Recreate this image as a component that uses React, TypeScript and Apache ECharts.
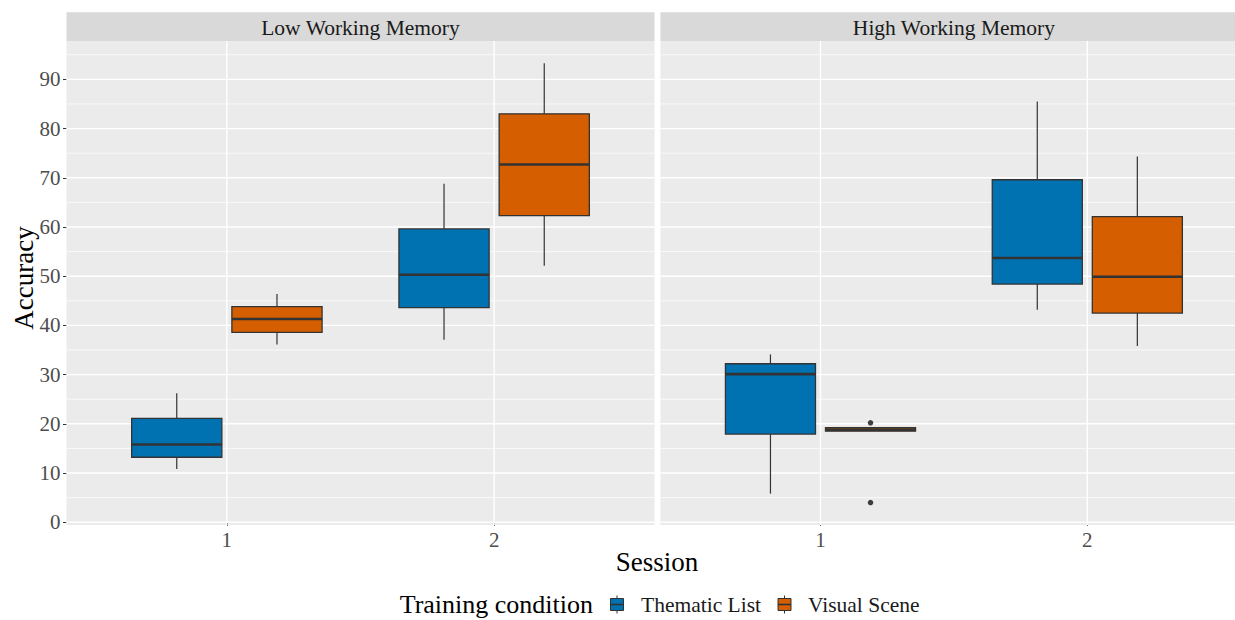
import React, { useEffect, useRef } from "react";
import * as echarts from "echarts";

// ---------- data ----------
const panels = ["Low Working Memory", "High Working Memory"];
const sessions = ["1", "2"];
const conditions = ["Thematic List", "Visual Scene"];
const colors = ["#0072B2", "#D55E00"];
const yTicks = [0, 10, 20, 30, 40, 50, 60, 70, 80, 90];
const yMinor = [5, 15, 25, 35, 45, 55, 65, 75, 85, 95];

// per session: [lower whisker, Q1, median, Q3, upper whisker]
const lowThematic = [
  [10.8, 13.2, 15.8, 21.1, 26.2],
  [37.1, 43.6, 50.3, 59.6, 68.8],
];
const lowVisual = [
  [36.1, 38.6, 41.3, 43.8, 46.4],
  [52.1, 62.3, 72.7, 83.0, 93.3],
];
const highThematic = [
  [5.8, 17.9, 30.1, 32.2, 34.1],
  [43.2, 48.4, 53.7, 69.6, 85.5],
];
const highVisual = [
  [18.5, 18.5, 18.8, 19.2, 19.2],
  [35.8, 42.5, 49.9, 62.1, 74.3],
];
// [session, value]
const highVisualOutliers = [
  [1, 20.2],
  [1, 4.0],
];

// ---------- layout constants ----------
const FONT = '"Liberation Serif", "Times New Roman", serif';
const DODGE = 0.1875;
const BOX_W = 0.3375;
const X_MIN = 0.4;
const X_MAX = 2.6;
const Y_MIN = -0.57;
const Y_MAX = 97.8;
const GRIDS = [
  { left: 66.5, top: 41, width: 588, height: 484 },
  { left: 660.4, top: 41, width: 587, height: 484 },
];
const STRIP_TOP = 12.3;

function boxRender(offset: number, color: string) {
  return (params: any, api: any) => {
    const x = api.value(0) + offset;
    const lo = api.coord([x, api.value(1)]);
    const q1 = api.coord([x, api.value(2)]);
    const md = api.coord([x, api.value(3)]);
    const q3 = api.coord([x, api.value(4)]);
    const hi = api.coord([x, api.value(5)]);
    const w = api.size([BOX_W, 0])[0];
    const cx = lo[0];
    const stroke = "#333333";
    return {
      type: "group",
      children: [
        {
          type: "line",
          shape: { x1: cx, y1: hi[1], x2: cx, y2: q3[1] },
          style: { stroke, lineWidth: 1.2 },
        },
        {
          type: "line",
          shape: { x1: cx, y1: q1[1], x2: cx, y2: lo[1] },
          style: { stroke, lineWidth: 1.2 },
        },
        {
          type: "rect",
          shape: { x: cx - w / 2, y: q3[1], width: w, height: Math.max(q1[1] - q3[1], 0.5) },
          style: { fill: color, stroke, lineWidth: 1.3 },
        },
        {
          type: "line",
          shape: { x1: cx - w / 2, y1: md[1], x2: cx + w / 2, y2: md[1] },
          style: { stroke, lineWidth: 2.6 },
        },
      ],
    };
  };
}

function gridRender(params: any, api: any) {
  const cs = params.coordSys;
  const kind = api.value(2);
  if (kind === 2) {
    const p = api.coord([api.value(0), 50]);
    return {
      type: "line",
      shape: { x1: p[0], y1: cs.y, x2: p[0], y2: cs.y + cs.height },
      style: { stroke: "#FFFFFF", lineWidth: 1.4 },
    };
  }
  const p = api.coord([1, api.value(1)]);
  return {
    type: "line",
    shape: { x1: cs.x, y1: p[1], x2: cs.x + cs.width, y2: p[1] },
    style: { stroke: "#FFFFFF", lineWidth: kind === 0 ? 1.4 : 0.7 },
  };
}

const gridData = [
  ...yTicks.map((v) => [1, v, 0]),
  ...yMinor.map((v) => [1, v, 1]),
  ...sessions.map((s) => [Number(s), 0, 2]),
];

function toBoxData(rows: number[][]) {
  return rows.map((r, i) => [Number(sessions[i]), ...r]);
}

export default function App() {
  const ref = useRef<HTMLDivElement>(null);
  useEffect(() => {
    if (!ref.current) return;
    const chart = echarts.init(ref.current, undefined, { renderer: "svg" });
    const panelData = [
      [lowThematic, lowVisual],
      [highThematic, highVisual],
    ];
    const series: any[] = [];
    panelData.forEach((pd, gi) => {
      series.push({
        type: "custom",
        name: "grid" + gi,
        xAxisIndex: gi,
        yAxisIndex: gi,
        renderItem: gridRender,
        data: gridData,
        silent: true,
        z: 1,
        encode: { x: 0, y: 1 },
      });
      pd.forEach((rows, ci) => {
        series.push({
          type: "custom",
          name: conditions[ci],
          xAxisIndex: gi,
          yAxisIndex: gi,
          renderItem: boxRender(ci === 0 ? -DODGE : DODGE, colors[ci]),
          data: toBoxData(rows),
          encode: { x: 0, y: [1, 2, 3, 4, 5] },
          z: 3,
        });
      });
    });
    series.push({
      type: "scatter",
      name: "outliers",
      xAxisIndex: 1,
      yAxisIndex: 1,
      data: highVisualOutliers.map(([s, v]) => [s + DODGE, v]),
      symbolSize: 5.5,
      itemStyle: { color: "#111111" },
      z: 4,
    });

    const xAxes = GRIDS.map((_, gi) => ({
      type: "value",
      gridIndex: gi,
      min: X_MIN,
      max: X_MAX,
      axisLine: { show: false },
      splitLine: { show: false },
      axisTick: {
        show: true,
        customValues: sessions.map(Number),
        length: 3.5,
        lineStyle: { color: "#333333", width: 1 },
      },
      axisLabel: {
        show: true,
        customValues: sessions.map(Number),
        formatter: (v: number) => String(v),
        margin: 4,
        fontFamily: FONT,
        fontSize: 21,
        color: "#4D4D4D",
      },
    }));
    const yAxes = GRIDS.map((_, gi) => ({
      type: "value",
      gridIndex: gi,
      min: Y_MIN,
      max: Y_MAX,
      axisLine: { show: false },
      splitLine: { show: false },
      axisTick: {
        show: gi === 0,
        customValues: yTicks,
        length: 3.5,
        lineStyle: { color: "#333333", width: 1 },
      },
      axisLabel: {
        show: gi === 0,
        customValues: yTicks,
        margin: 6,
        fontFamily: FONT,
        fontSize: 21,
        color: "#4D4D4D",
      },
    }));

    const graphic: any[] = [];
    GRIDS.forEach((g, gi) => {
      graphic.push({
        type: "rect",
        shape: { x: g.left, y: STRIP_TOP, width: g.width, height: g.top - STRIP_TOP },
        style: { fill: "#D9D9D9" },
        silent: true,
      });
      graphic.push({
        type: "text",
        x: g.left + g.width / 2,
        y: (STRIP_TOP + g.top) / 2 + 1,
        style: {
          text: panels[gi],
          font: `21.5px ${FONT}`,
          fill: "#1A1A1A",
          textAlign: "center",
          textVerticalAlign: "middle",
        },
        silent: true,
      });
    });
    graphic.push({
      type: "text",
      x: 24,
      y: 278,
      rotation: Math.PI / 2,
      style: {
        text: "Accuracy",
        font: `27px ${FONT}`,
        fill: "#000000",
        textAlign: "center",
        textVerticalAlign: "middle",
      },
    });
    graphic.push({
      type: "text",
      x: 657,
      y: 562,
      style: {
        text: "Session",
        font: `27px ${FONT}`,
        fill: "#000000",
        textAlign: "center",
        textVerticalAlign: "middle",
      },
    });
    graphic.push({
      type: "text",
      x: 593,
      y: 604,
      style: {
        text: "Training condition",
        font: `26px ${FONT}`,
        fill: "#000000",
        textAlign: "right",
        textVerticalAlign: "middle",
      },
    });
    const keyX = [617, 784.5];
    const textX = [641, 808];
    conditions.forEach((c, ci) => {
      const kx = keyX[ci];
      graphic.push({
        type: "group",
        silent: true,
        children: [
          { type: "line", shape: { x1: kx, y1: 595.5, x2: kx, y2: 613.5 }, style: { stroke: "#333333", lineWidth: 1 } },
          { type: "rect", shape: { x: kx - 6.5, y: 598.5, width: 13, height: 12 }, style: { fill: colors[ci], stroke: "#333333", lineWidth: 1 } },
          { type: "line", shape: { x1: kx - 6.5, y1: 604.5, x2: kx + 6.5, y2: 604.5 }, style: { stroke: "#333333", lineWidth: 1.6 } },
        ],
      });
      graphic.push({
        type: "text",
        x: textX[ci],
        y: 605,
        style: {
          text: c,
          font: `21.5px ${FONT}`,
          fill: "#1A1A1A",
          textAlign: "left",
          textVerticalAlign: "middle",
        },
      });
    });

    chart.setOption({
      animation: false,
      backgroundColor: "#FFFFFF",
      textStyle: { fontFamily: FONT },
      grid: GRIDS.map((g) => ({
        ...g,
        show: true,
        backgroundColor: "#EBEBEB",
        borderWidth: 0,
        containLabel: false,
        outerBoundsMode: "none",
      })),
      xAxis: xAxes,
      yAxis: yAxes,
      series,
      graphic,
    });
    return () => chart.dispose();
  }, []);
  return (
    <div
      ref={ref}
      style={{ width: 1235, height: 620, position: "absolute", left: 0, top: 0 }}
    />
  );
}
